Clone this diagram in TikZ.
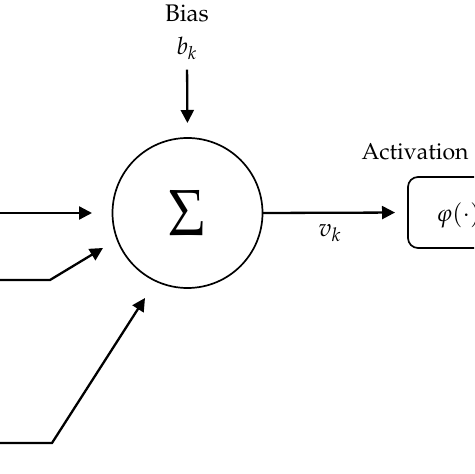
\documentclass[tikz,border=0pt]{standalone}
\usepackage[T1]{fontenc}
\usepackage{mathpazo}
\usetikzlibrary{arrows.meta}
\begin{document}
\begin{tikzpicture}[x=0.5pt,y=-0.5pt,
  conn/.style={line width=1.15pt,-{Triangle[length=6.5pt,width=6.5pt]}},
  lbl/.style={font=\fontsize{12}{14}\selectfont, inner sep=0pt},
  sumnode/.style={circle, draw, line width=0.85pt, minimum size=75pt, inner sep=0pt, outer sep=0pt},
  actbox/.style={draw, line width=0.85pt, rounded corners=5pt, minimum width=70pt, minimum height=35.5pt, inner sep=0pt, outer sep=0pt}]
\useasboundingbox (0,0) rectangle (474,474);
\clip (0,0) rectangle (474,474);
\node[sumnode] (sum) at (187.5,213) {\scalebox{0.85}[1.05]{\fontsize{31}{36}\selectfont$\Sigma$}};
\node[lbl] (bias) at (187,13) {Bias};
\node[lbl] (bk) at (187,48) {$b_k$};
\node[lbl, font=\fontsize{12.5}{14}\selectfont] (vk) at (330,233) {$v_k$};
\node[lbl, font=\fontsize{11.5}{13}\selectfont] (actlbl) at (415,152) {Activation};
\node[actbox, anchor=west] (act) at (408,212.5) {};
\node[lbl, anchor=west, font=\fontsize{12}{14}\selectfont] (phi) at (436,215) {$\varphi(\cdot)$};
% inputs (free ends off the picture)
\coordinate (in1) at (-10,213);
\coordinate (t1) at (92,213);
\coordinate (in2) at (-10,280);
\coordinate (b2) at (50,280);
\coordinate (t2) at (103,248);
\coordinate (in3) at (-10,443);
\coordinate (b3) at (52,443);
\coordinate (t3) at (145,298);
\draw[conn] (in1) -- (t1);
\draw[conn] (in2) -- (b2) -- (t2);
\draw[conn] (in3) -- (b3) -- (t3);
% bias
\draw[conn, shorten <=5pt, shorten >=7.5pt] (bk.south) -- (sum.north);
% output
\draw[conn, shorten >=6.5pt] (sum.east) -- (act.west);
\end{tikzpicture}
\end{document}
